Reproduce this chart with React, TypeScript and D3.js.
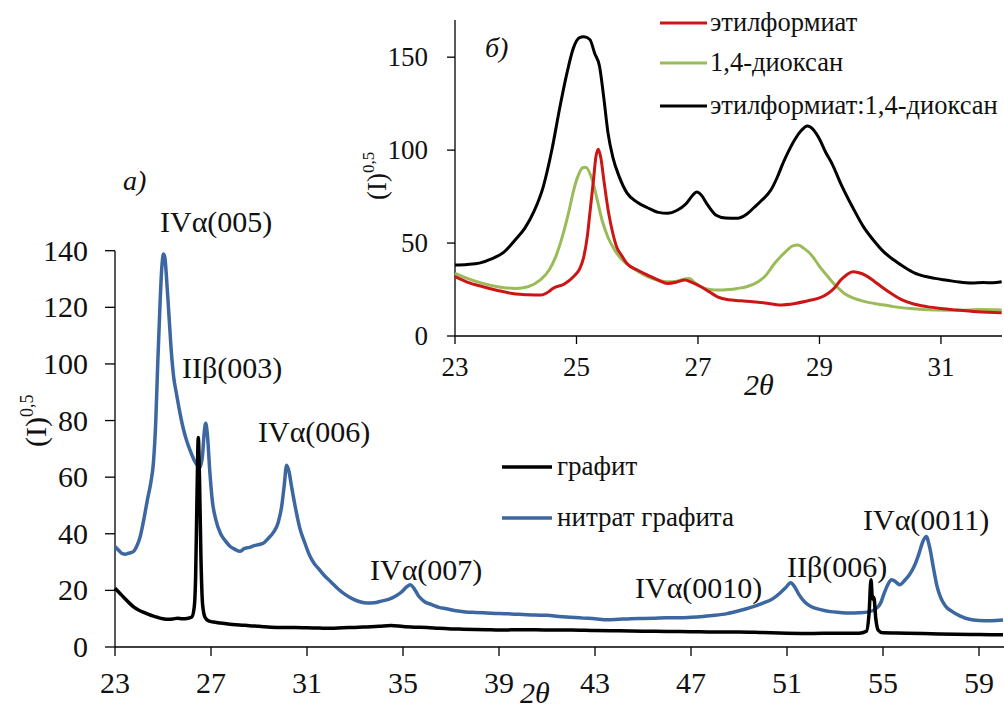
import React from "react";
import * as d3 from "d3";

// main chart (а): sqrt intensity vs 2θ
const graphite: [number, number][] = [
  [23.0, 20.8], [23.2, 19], [23.4, 17.2], [23.6, 15.5], [23.8, 14], [24.0, 13],
  [24.2, 12.2], [24.4, 11.5], [24.6, 10.9], [24.8, 10.4], [25.0, 10.0], [25.2, 9.8],
  [25.4, 9.9], [25.6, 10.2], [25.8, 10.0], [26.0, 10.1], [26.2, 10.6], [26.3, 14],
  [26.36, 25], [26.42, 55], [26.47, 74], [26.52, 60], [26.58, 32], [26.65, 15],
  [26.75, 10.5], [26.9, 9.2], [27.1, 8.8], [27.4, 8.5], [27.8, 8.0], [28.2, 7.8],
  [28.6, 7.5], [29.0, 7.3], [29.5, 7.0], [30.0, 6.9], [30.5, 6.9], [31.0, 6.8],
  [31.5, 6.7], [32.0, 6.6], [32.5, 6.8], [33.0, 6.9], [33.5, 7.1], [34.0, 7.3],
  [34.5, 7.6], [35.0, 7.2], [35.5, 7.0], [36.0, 6.9], [36.5, 6.6], [37.0, 6.4],
  [37.5, 6.3], [38.0, 6.2], [38.5, 6.1], [39.0, 6.0], [40, 6.1], [41, 6.0],
  [42, 6.0], [43, 5.8], [44, 5.7], [45, 5.6], [46, 5.5], [47, 5.4], [48, 5.3],
  [49, 5.3], [50, 5.1], [51, 4.9], [52, 4.8], [53, 4.9], [54.0, 4.9], [54.3, 5.5],
  [54.42, 12], [54.5, 23.8], [54.56, 17], [54.62, 17.5], [54.7, 10], [54.8, 6],
  [55.0, 5], [56, 4.9], [57, 4.7], [58, 4.5], [59, 4.4], [60, 4.3],
];

const graphiteNitrate: [number, number][] = [
  [23.0, 35.5], [23.15, 34.2], [23.3, 33.0], [23.45, 32.8], [23.6, 33.2], [23.75, 33.6],
  [23.9, 35.5], [24.05, 39], [24.2, 45], [24.35, 52], [24.5, 58.5], [24.6, 65],
  [24.7, 80], [24.78, 100], [24.88, 122], [24.95, 134], [25.02, 138.8], [25.08, 137.5],
  [25.15, 130], [25.25, 117], [25.35, 104], [25.45, 95], [25.55, 90], [25.7, 83],
  [25.85, 77], [26.0, 72.5], [26.15, 69], [26.3, 66], [26.45, 64], [26.55, 63.5],
  [26.65, 68], [26.72, 76], [26.78, 79], [26.85, 75], [26.95, 62], [27.05, 52],
  [27.2, 45], [27.4, 40], [27.6, 37.5], [27.8, 35.5], [28.0, 34.5], [28.2, 33.8],
  [28.4, 34.8], [28.6, 35.2], [28.8, 35.8], [29.0, 36.2], [29.2, 36.8], [29.4, 38.5],
  [29.6, 40.5], [29.8, 44], [29.95, 50], [30.05, 57], [30.15, 64.2], [30.25, 62],
  [30.35, 57], [30.5, 50], [30.7, 42], [30.9, 37], [31.1, 32.5], [31.3, 29.5],
  [31.5, 27.5], [31.75, 25], [32.0, 23], [32.3, 20.5], [32.6, 18.5], [32.9, 17],
  [33.2, 16], [33.5, 15.5], [33.8, 15.6], [34.1, 16.2], [34.4, 16.8], [34.7, 18],
  [34.95, 19.5], [35.15, 21.2], [35.3, 22], [35.45, 20.8], [35.65, 18], [35.9, 16],
  [36.2, 15], [36.5, 14], [36.8, 13.5], [37.2, 12.8], [37.6, 12.4], [38.0, 12.2],
  [38.5, 12.0], [39.0, 11.8], [39.5, 11.7], [40.0, 11.5], [40.5, 11.3], [41.0, 11.2],
  [41.5, 10.8], [42.0, 10.5], [42.5, 10.2], [43.0, 10], [43.5, 9.6], [44.0, 9.8],
  [44.5, 10], [45.0, 10.1], [45.5, 10.2], [46.0, 10.3], [46.5, 10.3], [47.0, 10.5],
  [47.5, 10.8], [48.0, 11.2], [48.5, 11.8], [49.0, 12.8], [49.5, 14], [50.0, 15.5],
  [50.4, 17], [50.7, 19], [50.95, 21], [51.15, 22.7], [51.3, 21.5], [51.5, 18.5],
  [51.75, 15.8], [52.0, 14.3], [52.4, 13.2], [52.8, 12.5], [53.2, 12.2], [53.6, 12.0],
  [54.0, 12.1], [54.4, 12.4], [54.7, 13.5], [54.9, 15.5], [55.05, 19], [55.2, 22],
  [55.35, 23.8], [55.5, 23.2], [55.7, 22], [55.9, 23.5], [56.1, 25.5], [56.3, 28.5],
  [56.5, 33], [56.65, 37], [56.8, 39], [56.95, 35], [57.1, 28], [57.25, 21.5],
  [57.4, 17.5], [57.6, 14.5], [57.9, 12.4], [58.2, 11], [58.6, 9.8], [59.0, 9.4],
  [59.5, 9.3], [60.0, 9.5],
];

// inset (б)
const ethylFormate: [number, number][] = [
  [23.0, 31.9], [23.2, 29], [23.46, 26.5], [23.7, 24.5], [24.0, 22.6], [24.2, 22.2],
  [24.41, 22], [24.55, 24], [24.61, 25.6], [24.8, 28], [24.95, 31.9], [25.05, 36],
  [25.12, 42.6], [25.18, 54], [25.22, 66], [25.28, 84], [25.32, 96.4], [25.36, 100.5],
  [25.4, 96], [25.45, 84], [25.53, 66], [25.6, 55], [25.66, 48], [25.75, 43],
  [25.83, 39], [26.0, 35.5], [26.17, 32.8], [26.35, 30], [26.5, 28.3], [26.65, 29],
  [26.78, 30.1], [26.9, 28.8], [27.05, 26.5], [27.2, 23.5], [27.32, 21.1], [27.5, 19.5],
  [27.7, 19], [27.86, 18.5], [28.1, 17.8], [28.33, 16.7], [28.6, 17.5], [28.87, 19.4],
  [29.0, 20.5], [29.14, 22.9], [29.25, 26], [29.35, 30.1], [29.45, 33], [29.55, 34.6],
  [29.65, 34], [29.75, 32.8], [29.9, 29.5], [30.02, 26.5], [30.2, 22.5], [30.36, 19.4],
  [30.55, 17.2], [30.77, 15.8], [31.0, 14.8], [31.24, 14], [31.6, 13], [32.0, 12.5],
];

const dioxane: [number, number][] = [
  [23.0, 33.7], [23.2, 31], [23.46, 28.3], [23.7, 26.5], [24.0, 25.6], [24.2, 26.5],
  [24.4, 30], [24.55, 35.5], [24.65, 42], [24.75, 51.6], [24.88, 67.7], [24.95, 78],
  [25.02, 85.6], [25.1, 90.5], [25.15, 90.8], [25.26, 83.9], [25.35, 72], [25.42, 62.4],
  [25.52, 53], [25.63, 46.2], [25.75, 41], [25.9, 37.3], [26.05, 34], [26.17, 31.9],
  [26.35, 30], [26.5, 29.2], [26.65, 29.5], [26.8, 30.8], [26.86, 31], [26.95, 28.5],
  [27.05, 26.5], [27.2, 25], [27.32, 24.7], [27.5, 25], [27.65, 25.6], [27.8, 26.5],
  [27.99, 29.2], [28.1, 32], [28.26, 39], [28.37, 43], [28.47, 46.2], [28.56, 48.5],
  [28.64, 48.9], [28.75, 47], [28.87, 43.5], [29.0, 37.5], [29.14, 31.9], [29.27, 27],
  [29.41, 22.9], [29.55, 20.5], [29.75, 18.5], [30.0, 17], [30.22, 15.8], [30.5, 14.8],
  [30.9, 14], [31.3, 13.8], [31.6, 14.2], [32.0, 14],
];

const mixture: [number, number][] = [
  [23.0, 38.2], [23.2, 38.5], [23.4, 39.2], [23.6, 41.5], [23.8, 45], [24.0, 52],
  [24.15, 58], [24.3, 67], [24.45, 80], [24.6, 101], [24.72, 122], [24.84, 141],
  [24.95, 155], [25.05, 160.5], [25.12, 161], [25.22, 159.5], [25.3, 152], [25.38, 145],
  [25.45, 128], [25.52, 109], [25.6, 96], [25.7, 86], [25.83, 77], [26.0, 72],
  [26.17, 69], [26.35, 66.5], [26.5, 66], [26.65, 67.5], [26.8, 71], [26.92, 76],
  [26.98, 77.5], [27.05, 76], [27.15, 71], [27.3, 65], [27.45, 63.5], [27.65, 63.3],
  [27.8, 65.5], [27.92, 69], [28.05, 73], [28.2, 78.5], [28.3, 85], [28.4, 93],
  [28.5, 100], [28.6, 106], [28.7, 110.5], [28.8, 113], [28.9, 111], [29.0, 106],
  [29.1, 99], [29.21, 92.5], [29.35, 82], [29.55, 69], [29.72, 59], [29.89, 51.5],
  [30.05, 45.5], [30.22, 41], [30.4, 37], [30.56, 34], [30.75, 32], [30.9, 31],
  [31.1, 30], [31.3, 29], [31.5, 28.5], [31.7, 28.8], [31.85, 28.6], [32.0, 29.2],
];

const mainXTicks = [23, 27, 31, 35, 39, 43, 47, 51, 55, 59];
const mainYTicks = [0, 20, 40, 60, 80, 100, 120, 140];
const insetXTicks = [23, 25, 27, 29, 31];
const insetYTicks = [0, 50, 100, 150];

const peakLabels = [
  { text: "IVα(005)", x: 160, y: 232 },
  { text: "IIβ(003)", x: 182, y: 378 },
  { text: "IVα(006)", x: 258, y: 442 },
  { text: "IVα(007)", x: 370, y: 580 },
  { text: "IVα(0010)", x: 635, y: 598 },
  { text: "IIβ(006)", x: 787, y: 577 },
  { text: "IVα(0011)", x: 863, y: 530 },
];

const serif = "'Liberation Serif', 'Times New Roman', 'DejaVu Serif', serif";
const BLUE = "#3c67a0";
const RED = "#cc1616";
const GREEN = "#9bbb59";

export default function App() {
  // main plot scales
  const x = d3.scaleLinear().domain([23, 60]).range([115, 1003]);
  const y = d3.scaleLinear().domain([0, 140]).range([647, 250.7]);
  // inset scales
  const xi = d3.scaleLinear().domain([23, 32]).range([455, 1001.7]);
  const yi = d3.scaleLinear().domain([0, 170]).range([336, 20]);

  const line = d3
    .line<[number, number]>()
    .x((d) => x(d[0]))
    .y((d) => y(d[1]))
    .curve(d3.curveMonotoneX);
  const lineI = d3
    .line<[number, number]>()
    .x((d) => xi(d[0]))
    .y((d) => yi(d[1]))
    .curve(d3.curveMonotoneX);

  return (
    <div style={{ position: "absolute", left: 0, top: 0 }}>
      <svg width={1004} height={711} style={{ display: "block", background: "#fff", fontFamily: serif }}>
        {/* ---- main chart ---- */}
        <line x1={x(23)} x2={1004} y1={y(0)} y2={y(0)} stroke="#000" strokeWidth={1.3} />
        <line x1={x(23)} x2={x(23)} y1={y(0)} y2={y(140)} stroke="#000" strokeWidth={1.3} />
        {mainXTicks.map((t) => (
          <g key={"mx" + t}>
            <line x1={x(t)} x2={x(t)} y1={y(0)} y2={y(0) + 9} stroke="#000" strokeWidth={1.3} />
            <text x={x(t)} y={y(0) + 46} textAnchor="middle" fontSize={30} fill="#111">
              {t}
            </text>
          </g>
        ))}
        {mainYTicks.map((t) => (
          <g key={"my" + t}>
            <line x1={x(23) - 10} x2={x(23)} y1={y(t)} y2={y(t)} stroke="#000" strokeWidth={1.3} />
            <text x={88} y={y(t) + 10} textAnchor="end" fontSize={30} fill="#111">
              {t}
            </text>
          </g>
        ))}
        <path d={line(graphiteNitrate) || ""} fill="none" stroke={BLUE} strokeWidth={3.5} strokeLinejoin="round" />
        <path d={line(graphite) || ""} fill="none" stroke="#000" strokeWidth={3.5} strokeLinejoin="round" />

        {peakLabels.map((p) => (
          <text key={p.text + p.x} x={p.x} y={p.y} fontSize={30} fill="#111">
            {p.text}
          </text>
        ))}

        <text x={123} y={190} fontSize={28} fontStyle="italic" fill="#111">а)</text>
        <text transform="translate(46,447) rotate(-90)" fontSize={30} fill="#111">
          (I)
          <tspan fontSize={18} dy={-13}>0,5</tspan>
        </text>
        <text x={520} y={703} fontSize={30} fontStyle="italic" fill="#111">2θ</text>

        {/* main legend */}
        <line x1={502} x2={552} y1={467} y2={467} stroke="#000" strokeWidth={3.5} />
        <text x={557} y={475} fontSize={27} fill="#111">графит</text>
        <line x1={502} x2={552} y1={518} y2={518} stroke={BLUE} strokeWidth={3.5} />
        <text x={557} y={526} fontSize={27} fill="#111">нитрат графита</text>

        {/* ---- inset ---- */}
        <line x1={xi(23)} x2={1002} y1={yi(0)} y2={yi(0)} stroke="#000" strokeWidth={1.3} />
        <line x1={xi(23)} x2={xi(23)} y1={yi(0)} y2={yi(170)} stroke="#000" strokeWidth={1.3} />
        {insetXTicks.map((t) => (
          <g key={"ix" + t}>
            <line x1={xi(t)} x2={xi(t)} y1={yi(0)} y2={yi(0) + 8} stroke="#000" strokeWidth={1.3} />
            <text x={xi(t)} y={yi(0) + 40} textAnchor="middle" fontSize={27} fill="#111">
              {t}
            </text>
          </g>
        ))}
        {insetYTicks.map((t) => (
          <g key={"iy" + t}>
            <line x1={xi(23) - 8} x2={xi(23)} y1={yi(t)} y2={yi(t)} stroke="#000" strokeWidth={1.3} />
            <text x={428} y={yi(t) + 9} textAnchor="end" fontSize={27} fill="#111">
              {t}
            </text>
          </g>
        ))}
        <path d={lineI(dioxane) || ""} fill="none" stroke={GREEN} strokeWidth={3} strokeLinejoin="round" />
        <path d={lineI(ethylFormate) || ""} fill="none" stroke={RED} strokeWidth={3} strokeLinejoin="round" />
        <path d={lineI(mixture) || ""} fill="none" stroke="#000" strokeWidth={3} strokeLinejoin="round" />

        <text x={485} y={57} fontSize={28} fontStyle="italic" fill="#111">б)</text>
        <text transform="translate(386,200) rotate(-90)" fontSize={27} fill="#111">
          (I)
          <tspan fontSize={17} dy={-12}>0,5</tspan>
        </text>
        <text x={744} y={395} fontSize={30} fontStyle="italic" fill="#111">2θ</text>

        {/* inset legend */}
        <line x1={660} x2={707} y1={23} y2={23} stroke={RED} strokeWidth={3} />
        <text x={710} y={31} fontSize={26.5} fill="#111">этилформиат</text>
        <line x1={660} x2={707} y1={63} y2={63} stroke={GREEN} strokeWidth={3} />
        <text x={710} y={71} fontSize={26.5} fill="#111">1,4-диоксан</text>
        <line x1={660} x2={707} y1={106} y2={106} stroke="#000" strokeWidth={3} />
        <text x={710} y={114} fontSize={26.5} fill="#111">этилформиат:1,4-диоксан</text>
      </svg>
    </div>
  );
}
